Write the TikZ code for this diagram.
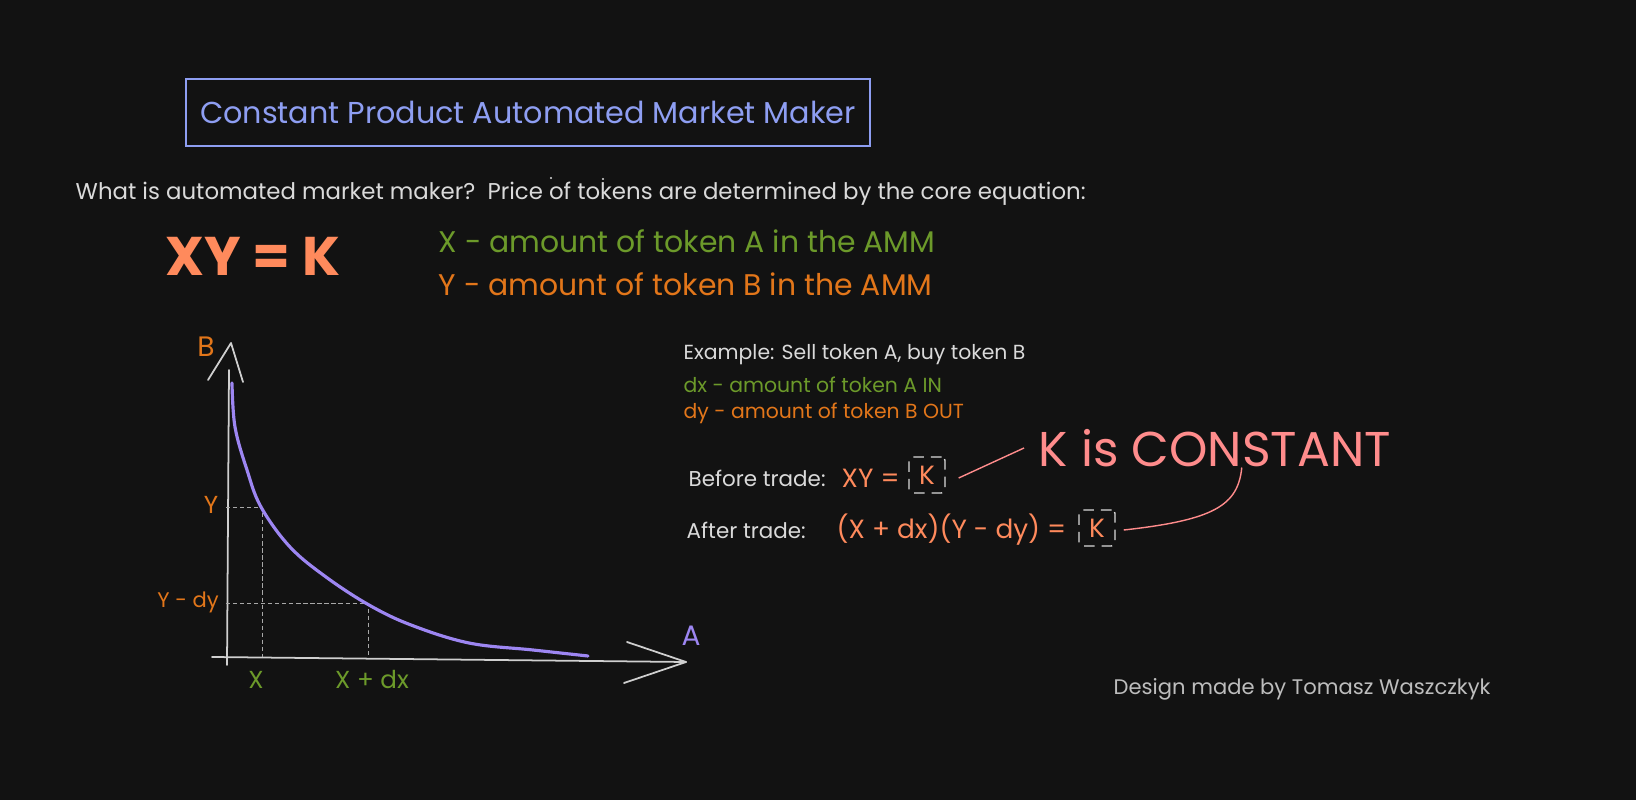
\documentclass[tikz,border=0pt]{standalone}
\usepackage{fontspec}
\setmainfont{Poppins}
\usepackage{xcolor}
\definecolor{cBg}{HTML}{121212}
\definecolor{cTitle}{HTML}{8E9EF2}
\definecolor{cText}{HTML}{DADADA}
\definecolor{cGreen}{HTML}{6C9A2A}
\definecolor{cOrange}{HTML}{E2761A}
\definecolor{cCoral}{HTML}{FF8A5C}
\definecolor{cPink}{HTML}{FF8C8C}
\definecolor{cCurve}{HTML}{9D86F2}
\definecolor{cAxis}{HTML}{CFCFCF}
\definecolor{cGrid}{HTML}{A8A8A8}
\definecolor{cFoot}{HTML}{BDBDBD}
\usepackage{tikz}
\usetikzlibrary{positioning,arrows.meta}
\tikzset{
  txt/.style={inner sep=0pt,anchor=west,text=cText},
  txt-small/.style={txt,font=\fontsize{5.8}{6.5}\selectfont},
  txt-trade/.style={txt,font=\fontsize{6.1}{7}\selectfont},
  txt-mid/.style={txt,font=\fontsize{7.5}{8.5}\selectfont,text=cCoral},
  txt-key/.style={txt,font=\fontsize{8.5}{10}\selectfont},
  title-box/.style={draw=cTitle,thick,text=cTitle,minimum width=68.4mm,
    minimum height=6.7mm,font=\fontsize{8.6}{10}\selectfont},
  k-box/.style={draw=cText,densely dashed,thin,rounded corners=1pt,
    minimum width=3.6mm,minimum height=3.6mm,inner sep=0pt,text=cCoral,
    font=\fontsize{7.5}{8.5}\selectfont},
  axis-line/.style={draw=cAxis,line width=0.5pt,line cap=round,line join=round},
  guide-line/.style={draw=cGrid,dash pattern=on 1.2pt off 0.8pt,line width=0.25pt},
  curve-line/.style={draw=cCurve,line width=0.9pt,line cap=round},
  link/.style={draw=cPink,line width=0.4pt},
  axis-label/.style={inner sep=0pt,font=\fontsize{7}{8}\selectfont},
}

\begin{document}
\begin{tikzpicture}[x=0.1mm,y=-0.1mm]
  \fill[cBg] (0,0) rectangle (1636,800);
  \useasboundingbox (0,0) rectangle (1636,800);
  % header
  \node[title-box] (title) at (528,112.5) {Constant Product Automated Market Maker};
  \node[txt,font=\fontsize{6.5}{7.5}\selectfont] (intro) at (75,194)
    {What is automated market maker?\ \ Price of tokens are determined by the core equation:};
  \fill[cText] (551,178) circle (0.12mm);
  \fill[cText] (603,179) circle (0.12mm);
  \node[txt,text=cCoral,font=\fontsize{15.5}{18}\selectfont\bfseries] (core) at (165,256) {XY = K};
  \node[txt-key,text=cGreen] (def-x) at (438,241) {X - amount of token A in the AMM};
  \node[txt-key,text=cOrange] (def-y) at (438,284) {Y - amount of token B in the AMM};

  % chart
  \coordinate (b-tip) at (231,343);
  \coordinate (a-tip) at (686,662);
  \draw[axis-line] (227,665) -- (229,370);
  \draw[axis-line] (208,380) -- (b-tip) -- (243,382);
  \draw[axis-line] (212,657) -- (a-tip);
  \draw[axis-line] (627,642) -- (a-tip) -- (624,683);
  \node[axis-label,text=cOrange,font=\fontsize{8}{9}\selectfont] (lbl-b) at (206,347) {B};
  \node[axis-label,text=cCurve,font=\fontsize{8}{9}\selectfont] (lbl-a) at (691,636) {A};
  \draw[guide-line] (226,507) -- (262,507) -- (262,657);
  \draw[guide-line] (226,603) -- (368,603) -- (368,657);
  \draw[curve-line] plot[smooth,tension=0.6] coordinates {(232,383) (235,427) (247,470)
    (261,507) (290,547) (326,577) (369,605) (411,625) (469,643) (533,650) (588,656)};
  \node[axis-label,text=cOrange] (lbl-y) at (211,505) {Y};
  \node[axis-label,text=cOrange,font=\fontsize{6}{7}\selectfont] (lbl-ydy) at (188,602) {Y - dy};
  \node[axis-label,text=cGreen] (lbl-x) at (256,680) {X};
  \node[axis-label,text=cGreen] (lbl-xdx) at (372,680) {X + dx};

  % trade example
  \node[txt-small] (ex) at (683,355) {Example: Sell token A, buy token B};
  \node[txt-small,text=cGreen] (ex-dx) at (683,385) {dx - amount of token A IN};
  \node[txt-small,text=cOrange] (ex-dy) at (683,413) {dy - amount of token B OUT};
  \node[txt-trade] (before) at (688,478) {Before trade:};
  \node[txt-mid] (before-eq) at (841,478) {XY =};
  \node[k-box] (k-before) at (927,475) {K};
  \node[txt-trade] (after) at (686,530) {After trade:};
  \node[txt-mid] (after-eq) at (836,530) {(X + dx)(Y - dy) =};
  \node[k-box] (k-after) at (1097,528) {K};
  \node[txt,text=cPink,font=\fontsize{13.9}{16}\selectfont] (k-const) at (1038,448) {K is CONSTANT};
  \draw[link] ([xshift=1.3mm,yshift=-0.3mm]k-before.east) -- ([xshift=-1.4mm]k-const.west);
  \draw[link] ([xshift=0.8mm,yshift=-0.2mm]k-after.east)
    .. controls (1215,520) and (1238,505) .. ([xshift=2.7mm]k-const.south);

  \node[txt,text=cFoot,font=\fontsize{6}{7}\selectfont] (credit) at (1113,689)
    {Design made by Tomasz Waszczkyk};
\end{tikzpicture}
\end{document}
